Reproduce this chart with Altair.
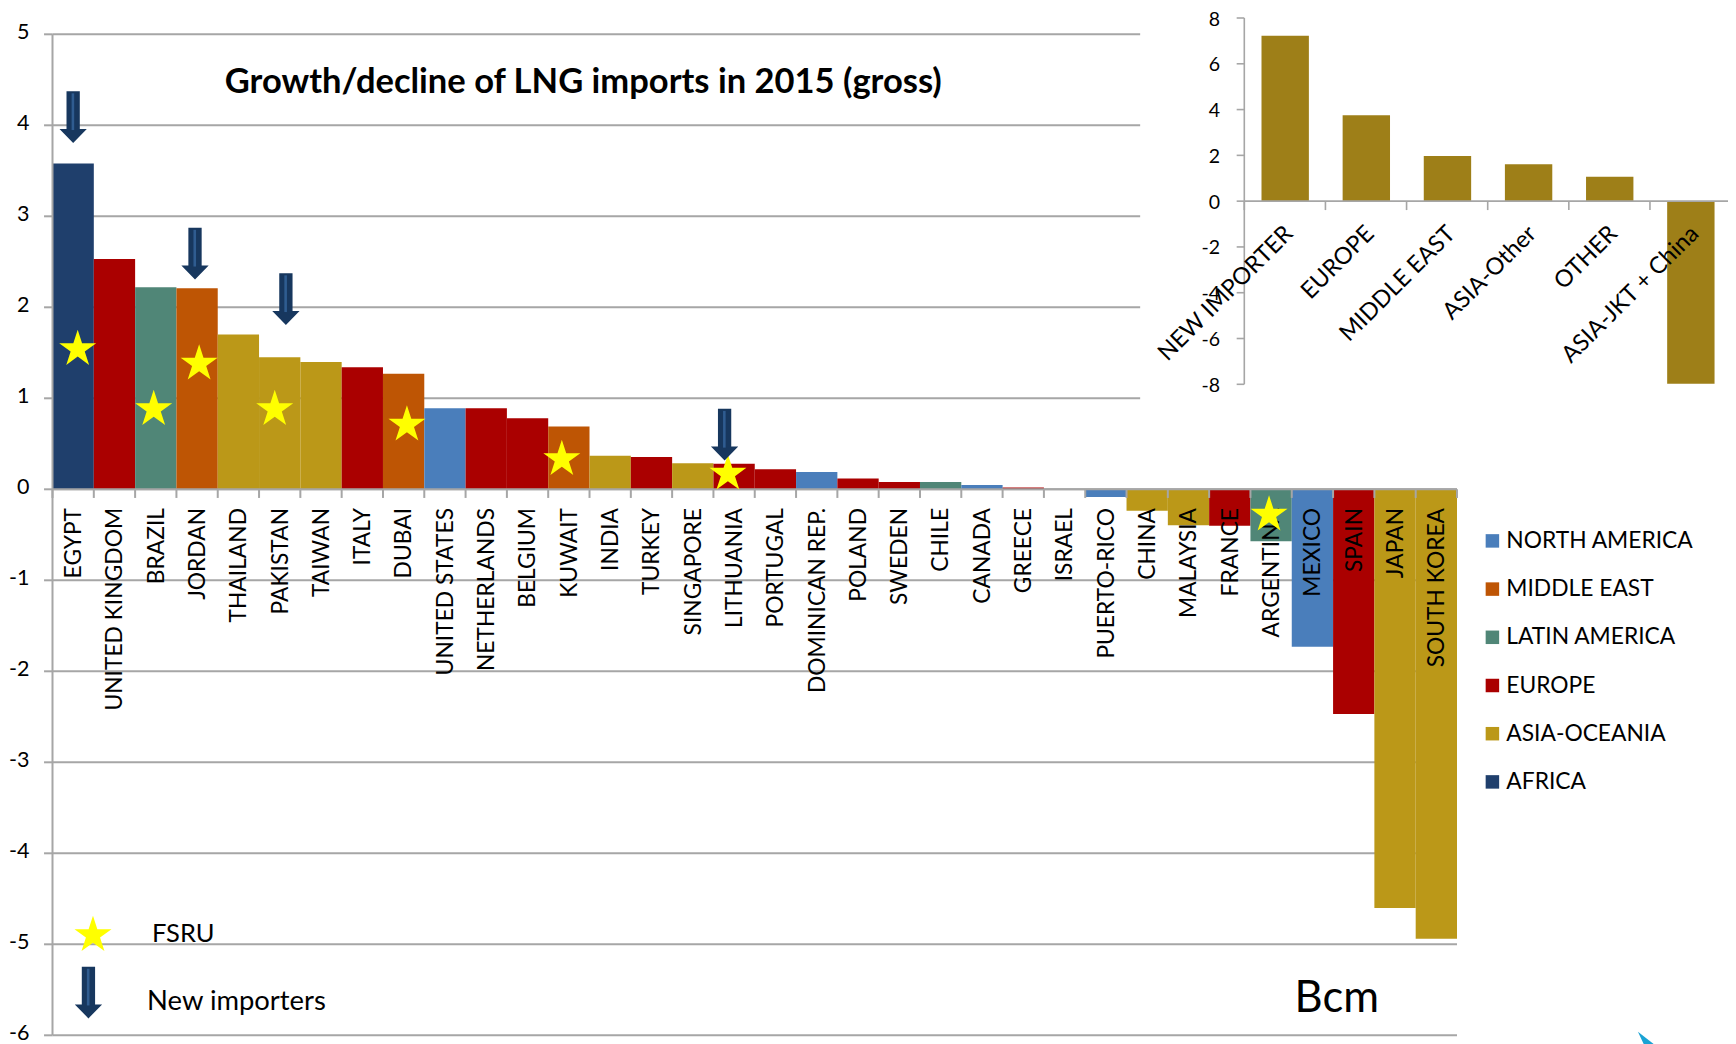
import altair as alt
import pandas as pd

# ---------------- data ----------------
countries = ["EGYPT", "UNITED KINGDOM", "BRAZIL", "JORDAN", "THAILAND", "PAKISTAN", "TAIWAN",
             "ITALY", "DUBAI", "UNITED STATES", "NETHERLANDS", "BELGIUM", "KUWAIT", "INDIA",
             "TURKEY", "SINGAPORE", "LITHUANIA", "PORTUGAL", "DOMINICAN REP.", "POLAND", "SWEDEN",
             "CHILE", "CANADA", "GREECE", "ISRAEL", "PUERTO-RICO", "CHINA", "MALAYSIA", "FRANCE",
             "ARGENTINA", "MEXICO", "SPAIN", "JAPAN", "SOUTH KOREA"]
values = [3.58, 2.53, 2.22, 2.21, 1.70, 1.45, 1.40, 1.34, 1.27, 0.89, 0.89, 0.78, 0.69, 0.37,
          0.355, 0.285, 0.28, 0.22, 0.19, 0.12, 0.08, 0.08, 0.047, 0.02, 0.0, -0.085, -0.235,
          -0.395, -0.40, -0.57, -1.73, -2.47, -4.60, -4.94]
regions = ["AFRICA", "EUROPE", "LATIN AMERICA", "MIDDLE EAST", "ASIA-OCEANIA", "ASIA-OCEANIA",
           "ASIA-OCEANIA", "EUROPE", "MIDDLE EAST", "NORTH AMERICA", "EUROPE", "EUROPE",
           "MIDDLE EAST", "ASIA-OCEANIA", "EUROPE", "ASIA-OCEANIA", "EUROPE", "EUROPE",
           "NORTH AMERICA", "EUROPE", "EUROPE", "LATIN AMERICA", "NORTH AMERICA", "EUROPE",
           "MIDDLE EAST", "NORTH AMERICA", "ASIA-OCEANIA", "ASIA-OCEANIA", "EUROPE",
           "LATIN AMERICA", "NORTH AMERICA", "EUROPE", "ASIA-OCEANIA", "ASIA-OCEANIA"]

region_order = ["NORTH AMERICA", "MIDDLE EAST", "LATIN AMERICA", "EUROPE", "ASIA-OCEANIA", "AFRICA"]
region_colors = ["#4A7EBB", "#BE5504", "#508677", "#AA0000", "#BB9818", "#1F3F6C"]

# FSRU stars (category position, value)
fsru_countries = ["EGYPT", "BRAZIL", "JORDAN", "PAKISTAN", "DUBAI", "KUWAIT", "LITHUANIA", "ARGENTINA"]
fsru_x = [0.61, 2.45, 3.55, 5.38, 8.58, 12.33, 16.35, 29.45]
fsru_y = [1.56, 0.90, 1.40, 0.90, 0.73, 0.35, 0.19, -0.26]

# New importers arrows
new_importers = ["EGYPT", "JORDAN", "PAKISTAN", "LITHUANIA"]
new_x = [0.50, 3.45, 5.65, 16.27]
new_y = [4.09, 2.59, 2.09, 0.60]

main_ticks = [-6, -5, -4, -3, -2, -1, 0, 1, 2, 3, 4, 5]
main_tick_labels = ["-6", "-5", "-4", "-3", "-2", "-1", "0", "1", "2", "3", "4", "5"]

inset_groups = ["NEW IMPORTER", "EUROPE", "MIDDLE EAST", "ASIA-Other", "OTHER", "ASIA-JKT + China"]
inset_values = [7.22, 3.75, 1.97, 1.61, 1.07, -7.98]
inset_ticks = [-8, -6, -4, -2, 0, 2, 4, 6, 8]
inset_tick_labels = ["-8", "-6", "-4", "-2", "0", "2", "4", "6", "8"]

title_text = "Growth/decline of LNG imports in 2015 (gross)"
fsru_text = "FSRU"
new_text = "New importers"
unit_text = "Bcm"

# ---------------- styles ----------------
FONT = "Lato"
GRID = "#A6A6A6"
ARROW = "#17375E"
STAR = "#FFFF00"
INSET_BAR = "#9E7F18"
LOGO = "#1AA3D4"

STAR_PATH = ("M0,-0.905 L0.2245,-0.214 L0.9511,-0.214 L0.3633,0.213 L0.5878,0.904 "
             "L0,0.477 L-0.5878,0.904 L-0.3633,0.213 L-0.9511,-0.214 L-0.2245,-0.214 Z")
ARROW_PATH = "M-0.257,-1 L0.257,-1 L0.257,0.46 L0.528,0.46 L0,1 L-0.528,0.46 L-0.257,0.46 Z"
ARROW_HI = "M-0.06,-0.92 L0.04,-0.92 L0.04,0.5 L-0.06,0.5 Z"
LOGO_PATH = "M-0.98,-0.79 L0.99,0.75 L-0.26,0.75 Z"

MX = alt.Scale(domain=[0, 34], range=[44.5, 1449], nice=False, zero=False)
MY = alt.Scale(domain=[-6, 5], range=[1027.3, 26.3], nice=False, zero=False)
IX = alt.Scale(domain=[0, 6], range=[1236.3, 1723.1], nice=False, zero=False)
IY = alt.Scale(domain=[-8, 8], range=[376.3, 10], nice=False, zero=False)


def X(field, s):
    return alt.X(field, type="quantitative", scale=s, axis=None)


def Y(field, s):
    return alt.Y(field, type="quantitative", scale=s, axis=None)


def XD(v, s):
    return alt.XDatum(v, scale=s, axis=None)


def YD(v, s):
    return alt.YDatum(v, scale=s, axis=None)


df = pd.DataFrame({"country": countries, "value": values, "region": regions,
                   "idx": list(range(len(countries)))})
ticks_df = pd.DataFrame({"v": main_ticks, "lab": main_tick_labels})
bounds_df = pd.DataFrame({"b": list(range(len(countries) + 1))})
fsru_df = pd.DataFrame({"country": fsru_countries, "x": fsru_x, "y": fsru_y})
new_df = pd.DataFrame({"country": new_importers, "x": new_x, "y": new_y})
inset_df = pd.DataFrame({"group": inset_groups, "value": inset_values,
                         "idx": list(range(len(inset_groups)))})
iticks_df = pd.DataFrame({"v": inset_ticks, "lab": inset_tick_labels})
ibounds_df = pd.DataFrame({"b": list(range(len(inset_groups) + 1))})
one = pd.DataFrame({"a": [0]})

layers = []

# main gridlines
layers.append(
    alt.Chart(ticks_df).transform_calculate(x0="0", x1="datum.v > 0 ? 26.33 : 34")
    .mark_rule(color=GRID, strokeWidth=2)
    .encode(x=X("x0", MX), x2="x1:Q", y=Y("v", MY))
)
# y tick stubs
layers.append(
    alt.Chart(ticks_df).transform_calculate(x0="-0.205", x1="0")
    .mark_rule(color=GRID, strokeWidth=2)
    .encode(x=X("x0", MX), x2="x1:Q", y=Y("v", MY))
)
# y tick labels
layers.append(
    alt.Chart(ticks_df).transform_calculate(xl="-0.56")
    .mark_text(font=FONT, fontSize=21.5, color="black", align="right", baseline="middle", dy=-1.5)
    .encode(x=X("xl", MX), y=Y("v", MY), text="lab:N")
)
# bars
layers.append(
    alt.Chart(df).transform_calculate(x1="datum.idx", x2="datum.idx + 1", z="0")
    .mark_bar(strokeWidth=0)
    .encode(
        x=X("x1", MX), x2="x2:Q", y=Y("value", MY), y2="z:Q",
        color=alt.Color("region:N", scale=alt.Scale(domain=region_order, range=region_colors),
                        legend=alt.Legend(orient="none", legendX=1473, legendY=521.5, title=None,
                                          symbolType="square", symbolSize=182,
                                          symbolStrokeWidth=0, symbolOpacity=1,
                                          labelFont=FONT, labelFontSize=22.8, labelColor="black",
                                          rowPadding=24.2, labelOffset=2.5, padding=0,
                                          labelLimit=400)),
    )
)
# y axis line
layers.append(
    alt.Chart(one).mark_rule(color=GRID, strokeWidth=2)
    .encode(x=XD(0, MX), y=YD(-6, MY), y2=alt.Y2Datum(5))
)
# zero line
layers.append(
    alt.Chart(one).mark_rule(color=GRID, strokeWidth=2)
    .encode(x=XD(0, MX), x2=alt.X2Datum(34), y=YD(0, MY))
)
# x ticks
layers.append(
    alt.Chart(bounds_df).transform_calculate(y0="0", y1="-0.095")
    .mark_rule(color=GRID, strokeWidth=2)
    .encode(x=X("b", MX), y=Y("y0", MY), y2="y1:Q")
)
# category labels
layers.append(
    alt.Chart(df).transform_calculate(xc="datum.idx + 0.52", yl="-0.205")
    .mark_text(font=FONT, fontSize=22.8, color="black", angle=270, align="right",
               baseline="middle")
    .encode(x=X("xc", MX), y=Y("yl", MY), text="country:N")
)
# FSRU stars
layers.append(
    alt.Chart(fsru_df).mark_point(shape=STAR_PATH, filled=True, fill=STAR, opacity=1,
                                  size=1513, strokeWidth=0)
    .encode(x=X("x", MX), y=Y("y", MY))
)
# new importer arrows
layers.append(
    alt.Chart(new_df).mark_point(shape=ARROW_PATH, filled=True, fill=ARROW, opacity=1,
                                 size=2673, strokeWidth=0)
    .encode(x=X("x", MX), y=Y("y", MY))
)
layers.append(
    alt.Chart(new_df).mark_point(shape=ARROW_HI, filled=True, fill="#2F5C90", opacity=1,
                                 size=2673, strokeWidth=0)
    .encode(x=X("x", MX), y=Y("y", MY))
)
# title
layers.append(
    alt.Chart(pd.DataFrame({"t": [title_text]}))
    .mark_text(font=FONT, fontSize=34.5, fontWeight="bold", color="black", align="center",
               baseline="middle")
    .encode(x=XD(12.85, MX), y=YD(4.47, MY), text="t:N")
)
# key: star + FSRU
layers.append(
    alt.Chart(one).mark_point(shape=STAR_PATH, filled=True, fill=STAR, opacity=1,
                              size=1513, strokeWidth=0)
    .encode(x=XD(0.98, MX), y=YD(-4.88, MY))
)
layers.append(
    alt.Chart(pd.DataFrame({"t": [fsru_text]}))
    .mark_text(font=FONT, fontSize=25.5, color="black", align="left", baseline="middle")
    .encode(x=XD(2.41, MX), y=YD(-4.888, MY), text="t:N")
)
# key: arrow + New importers
layers.append(
    alt.Chart(one).mark_point(shape=ARROW_PATH, filled=True, fill=ARROW, opacity=1,
                              size=2673, strokeWidth=0)
    .encode(x=XD(0.87, MX), y=YD(-5.53, MY))
)
layers.append(
    alt.Chart(one).mark_point(shape=ARROW_HI, filled=True, fill="#2F5C90", opacity=1,
                              size=2673, strokeWidth=0)
    .encode(x=XD(0.87, MX), y=YD(-5.53, MY))
)
layers.append(
    alt.Chart(pd.DataFrame({"t": [new_text]}))
    .mark_text(font=FONT, fontSize=27.4, color="black", align="left", baseline="middle")
    .encode(x=XD(2.29, MX), y=YD(-5.638, MY), text="t:N")
)
# Bcm
layers.append(
    alt.Chart(pd.DataFrame({"t": [unit_text]}))
    .mark_text(font=FONT, fontSize=43.5, color="black", align="center", baseline="middle")
    .encode(x=XD(31.09, MX), y=YD(-5.598, MY), text="t:N")
)
# corner logo fragment
layers.append(
    alt.Chart(one).mark_point(shape=LOGO_PATH, filled=True, fill=LOGO, opacity=1,
                              size=256, strokeWidth=0)
    .encode(x=XD(38.57, MX), y=YD(-6.03, MY))
)

# ---------------- inset ----------------
layers.append(
    alt.Chart(inset_df).transform_calculate(x1="datum.idx + 0.212", x2="datum.idx + 0.796", z="0")
    .mark_bar(color=INSET_BAR, strokeWidth=0)
    .encode(x=X("x1", IX), x2="x2:Q", y=Y("value", IY), y2="z:Q")
)
layers.append(
    alt.Chart(one).mark_rule(color=GRID, strokeWidth=1.6)
    .encode(x=XD(0, IX), y=YD(-8, IY), y2=alt.Y2Datum(8))
)
layers.append(
    alt.Chart(iticks_df).transform_calculate(x0="-0.094", x1="0")
    .mark_rule(color=GRID, strokeWidth=1.6)
    .encode(x=X("x0", IX), x2="x1:Q", y=Y("v", IY))
)
layers.append(
    alt.Chart(iticks_df).transform_calculate(xl="-0.30")
    .mark_text(font=FONT, fontSize=19.5, color="black", align="right", baseline="middle", dy=1.5)
    .encode(x=X("xl", IX), y=Y("v", IY), text="lab:N")
)
layers.append(
    alt.Chart(one).mark_rule(color=GRID, strokeWidth=1.6)
    .encode(x=XD(0, IX), x2=alt.X2Datum(6), y=YD(0, IY))
)
layers.append(
    alt.Chart(ibounds_df).transform_calculate(y0="0", y1="-0.39")
    .mark_rule(color=GRID, strokeWidth=1.6)
    .encode(x=X("b", IX), y=Y("y0", IY), y2="y1:Q")
)
layers.append(
    alt.Chart(inset_df).transform_calculate(xc="datum.idx + 0.45", yl="-0.9")
    .mark_text(font=FONT, fontSize=23.5, color="black", angle=315, align="right",
               baseline="top")
    .encode(x=X("xc", IX), y=Y("yl", IY), text="group:N")
)

chart = (
    alt.layer(*layers)
    .resolve_scale(x="independent", y="independent")
    .properties(width=1720, height=1036, padding=0,
                autosize=alt.AutoSizeParams(type="none"))
    .configure_view(stroke=None)
)

chart.save("out.html", embed_options={"renderer": "svg", "actions": False})
